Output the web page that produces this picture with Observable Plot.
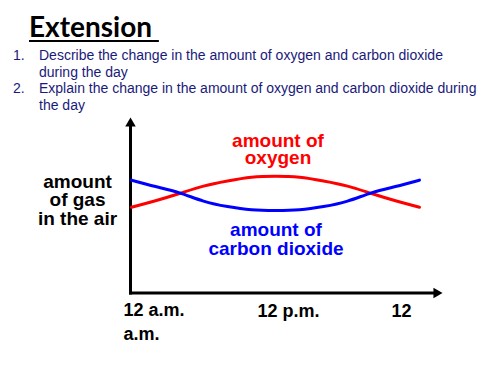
<!DOCTYPE html>
<html><head><meta charset="utf-8">
<script src="https://cdn.jsdelivr.net/npm/d3@7"></script>
<script src="https://cdn.jsdelivr.net/npm/@observablehq/plot@0.6"></script>
<style>
html,body{margin:0;padding:0;background:#fff;}
#page{position:relative;width:500px;height:375px;overflow:hidden;background:#fff;}
#header{position:relative;height:110px;}
#title{position:absolute;left:29px;top:10px;font:bold 28px/1.2 Lato, sans-serif;color:#000;white-space:pre;
  text-decoration:underline;text-decoration-thickness:2px;text-underline-offset:2.5px;}
#list{position:absolute;left:0;top:46.8px;font:14px/16.7px "Liberation Sans", Arial, sans-serif;color:#1a1a7a;white-space:nowrap;z-index:2;}
.item{position:relative;padding-left:39px;}
.num{position:absolute;left:13px;top:0;}
#chart{position:absolute;left:0;top:110px;z-index:1;}
#chart svg{background:transparent !important;}
</style></head><body>
<div id="page">
  <div id="header">
    <div id="title">Extension </div>
    <div id="list"></div>
  </div>
  <div id="chart"></div>
</div>
<script>
// ---- data ----
const titleText = "Extension ";
const questions = [
  ["Describe the change in the amount of oxygen and carbon dioxide", "during the day"],
  ["Explain the change in the amount of oxygen and carbon dioxide during", "the day"]
];
const hours = [0, 2, 4, 6, 8, 10, 12, 14, 16, 18, 20, 22, 24];
const oxygen = [4.90, 5.27, 5.68, 6.10, 6.39, 6.60, 6.66, 6.60, 6.39, 6.10, 5.68, 5.27, 4.90];
const carbonDioxide = [6.44, 6.08, 5.72, 5.25, 4.94, 4.76, 4.72, 4.76, 4.94, 5.25, 5.72, 6.08, 6.44];
const tickHours = [0, 12, 24];
const tickLabels = ["12 a.m.\na.m.", "12 p.m.", "12"];
const seriesLabels = ["amount of\noxygen", "amount of\ncarbon dioxide"];
const yLabel = "amount\nof gas\nin the air";

// ---- header ----
document.getElementById("title").textContent = titleText;
const list = document.getElementById("list");
questions.forEach((lines, i) => {
  const item = document.createElement("div");
  item.className = "item";
  const num = document.createElement("span");
  num.className = "num";
  num.textContent = (i + 1) + ".";
  item.appendChild(num);
  lines.forEach((l, j) => {
    if (j) item.appendChild(document.createElement("br"));
    item.appendChild(document.createTextNode(l));
  });
  list.appendChild(item);
});

// ---- chart ----
const oxy = hours.map((h, i) => ({hour: h, value: oxygen[i]}));
const co2 = hours.map((h, i) => ({hour: h, value: carbonDioxide[i]}));
const ticks = tickHours.map((h, i) => ({hour: h, label: tickLabels[i]}));
const peakO = oxy.filter(d => d.hour === 12);
const troughC = co2.filter(d => d.hour === 12);
const RED = "#ff0000", BLUE = "#0000ff";
const tickDx = [-8, -18, -28];

const chart = Plot.plot({
  width: 500, height: 265,
  marginLeft: 130, marginRight: 64, marginTop: 13, marginBottom: 82.5,
  x: {domain: [0, 24], range: [131, 419], axis: null},
  y: {domain: [0, 10], range: [183, 7], axis: null},
  style: {fontFamily: "'Liberation Sans', Arial, sans-serif", background: "transparent", color: "black"},
  marks: [
    Plot.frame({anchor: "left", stroke: "black", strokeWidth: 3, strokeLinecap: "square"}),
    Plot.frame({anchor: "bottom", stroke: "black", strokeWidth: 3, strokeLinecap: "square"}),
    Plot.dot([0], {frameAnchor: "top-left", symbol: "triangle", r: 3.9, fill: "black", stroke: "none"}),
    Plot.dot([0], {frameAnchor: "bottom-right", symbol: "triangle", r: 3.9, fill: "black", stroke: "none", rotate: 90}),
    Plot.line(oxy, {x: "hour", y: "value", stroke: RED, strokeWidth: 3, curve: "natural"}),
    Plot.line(co2, {x: "hour", y: "value", stroke: BLUE, strokeWidth: 3, curve: "natural"}),
    Plot.text(peakO, {x: "hour", y: "value", text: () => seriesLabels[0], fill: RED, fontSize: 19, fontWeight: "bold",
      textAnchor: "middle", lineAnchor: "bottom", lineHeight: 0.9, dx: 2.5, dy: -12.5}),
    Plot.text(troughC, {x: "hour", y: "value", text: () => seriesLabels[1], fill: BLUE, fontSize: 19, fontWeight: "bold",
      textAnchor: "middle", lineAnchor: "bottom", lineHeight: 0.98, dx: 0.5, dy: 44.5}),
    Plot.text([yLabel], {frameAnchor: "left", text: d => d, fill: "black", fontSize: 19, fontWeight: "bold",
      textAnchor: "middle", lineAnchor: "bottom", lineHeight: 0.97, dx: -53, dy: 16.5}),
    ...ticks.map((t, i) => Plot.text([t], {x: "hour", text: "label", frameAnchor: "bottom", fill: "black",
      fontSize: 18, fontWeight: "bold", textAnchor: "start", lineAnchor: "bottom", lineHeight: 1.28,
      dx: tickDx[i], dy: i === 0 ? 46.5 : 23.5}))
  ]
});
document.getElementById("chart").appendChild(chart);
</script>
</body></html>
